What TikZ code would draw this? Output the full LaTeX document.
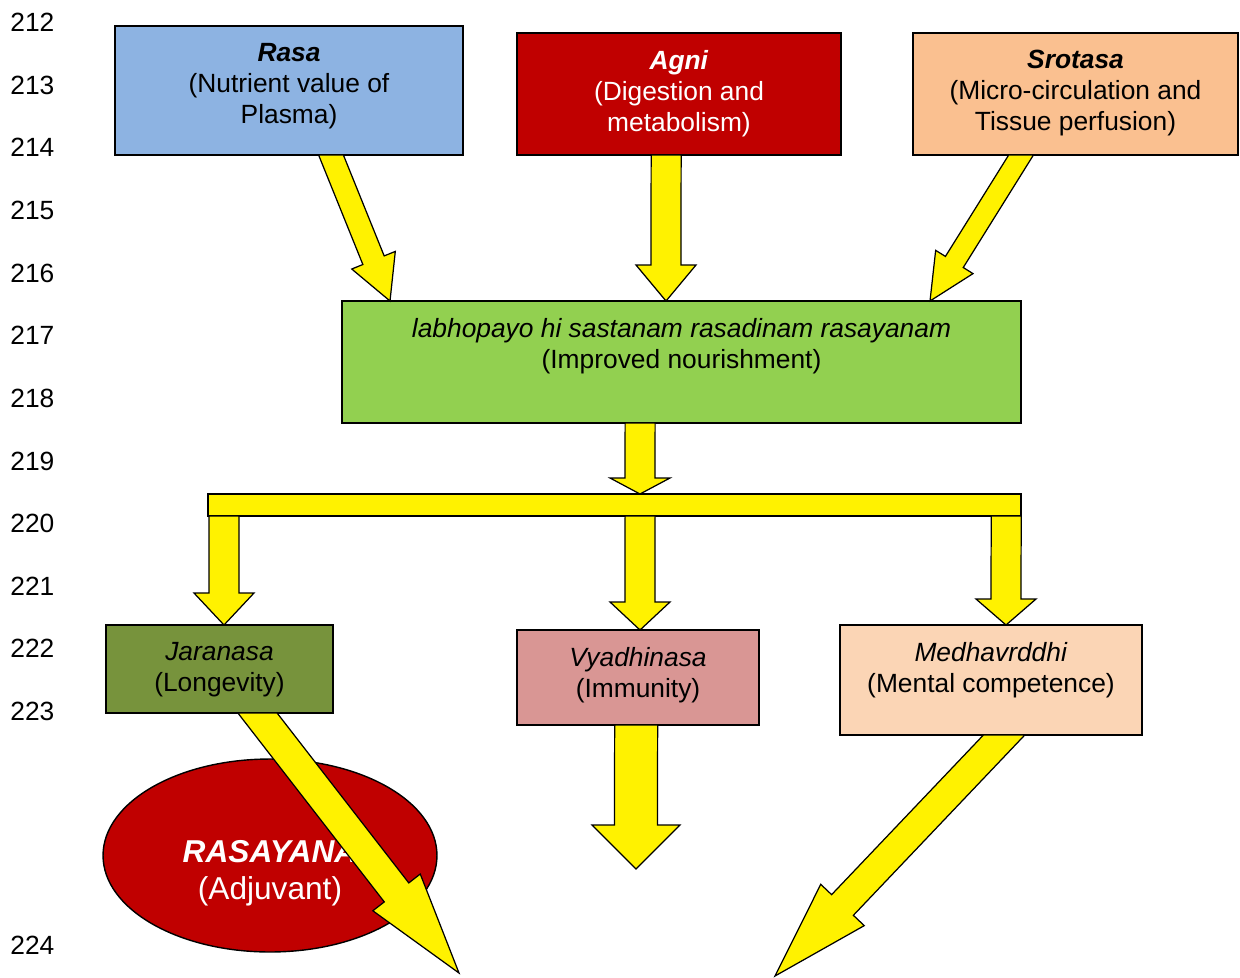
\documentclass[tikz,border=0pt]{standalone}
\usepackage{fontspec}
\setmainfont{Liberation Sans}
\usetikzlibrary{shapes,fit,calc}

\definecolor{rasablue}{HTML}{8DB3E2}
\definecolor{agnired}{HTML}{C00000}
\definecolor{srotorange}{HTML}{FAC090}
\definecolor{nourgreen}{HTML}{92D050}
\definecolor{jaraolive}{HTML}{77933C}
\definecolor{vyadhipink}{HTML}{D99694}
\definecolor{medhapeach}{HTML}{FBD5B5}

% block arrow: start, tip, shaft half width, head half width, head length
% (the shaft is cut flat along the horizontal edge it leaves)
\newcommand{\blockarrow}[5]{%
	\coordinate (headbase) at ($(#2)!#5!(#1)$);
	\coordinate (sidea) at ($(#1)!#3!90:(#2)$);
	\coordinate (sideb) at ($(#1)!#3!-90:(#2)$);
	\coordinate (necka) at ($(headbase)!#3!90:(#2)$);
	\coordinate (neckb) at ($(headbase)!#3!-90:(#2)$);
	\coordinate (flat) at ($(#1)+(10,0)$);
	\draw[fatarrow] (intersection of sidea--necka and #1--flat) -- (necka) -- ($(headbase)!#4!90:(#2)$) -- (#2)
		-- ($(headbase)!#4!-90:(#2)$) -- (neckb) -- (intersection of sideb--neckb and #1--flat) -- cycle;}

\begin{document}
\begin{tikzpicture}[x=0.02cm, y=-0.02cm,
		box/.style={draw=black, line width=0.8pt, inner sep=0pt, outer sep=0pt},
		boxtext/.style={anchor=north, inner sep=0pt, align=center, font=\fontsize{15}{17.6}\selectfont},
		fatarrow/.style={draw=black, fill=yellow, line width=0.7pt, line join=miter},
		lineno/.style={anchor=west, inner sep=0pt, font=\fontsize{15}{18}\selectfont}]
			\useasboundingbox (0,0) rectangle (1240,977);
			
			% Line numbers
			\foreach \num/\ypos in {212/22, 213/85, 214/147, 215/210, 216/273, 217/335, 218/398, 219/461, 220/523, 221/586, 222/648, 223/711, 224/945}
				\node[lineno] (ln\num) at (10,\ypos) {\num};
			
			% Sources
			\node[box, fill=rasablue, fit={(115,26) (463,155)}] (rasa) {};
			\node[boxtext] (rasatxt) at ($(rasa.north)+(0,17)$) {\textbf{\textit{Rasa}}\\(Nutrient value of\\Plasma)};
			\node[box, fill=agnired, fit={(517,33) (841,155)}] (agni) {};
			\node[boxtext, text=white] (agnitxt) at ($(agni.north)+(0,17)$) {\textbf{\textit{Agni}}\\(Digestion and\\metabolism)};
			\node[box, fill=srotorange, fit={(913,33) (1238,155)}] (srotasa) {};
			\node[boxtext] (srotasatxt) at ($(srotasa.north)+(0,17)$) {\textbf{\textit{Srotasa}}\\(Micro-circulation and\\Tissue perfusion)};
			
			% Nourishment
			\node[box, fill=nourgreen, fit={(342,301) (1021,423)}] (nourish) {};
			\node[boxtext] (nourishtxt) at ($(nourish.north)+(0,17)$) {\textit{labhopayo hi sastanam rasadinam rasayanam}\\(Improved nourishment)};
			\node[box, fill=yellow, fit={(208,494) (1021,516)}] (bar) {};
			
			% Effects
			\node[box, fill=jaraolive, fit={(106,625) (333,713)}] (jara) {};
			\node[boxtext] (jaratxt) at ($(jara.north)+(0,17)$) {\textit{Jaranasa}\\(Longevity)};
			\node[box, fill=vyadhipink, fit={(517,630) (759,725)}] (vyadhi) {};
			\node[boxtext] (vyadhitxt) at ($(vyadhi.north)+(0,17)$) {\textit{Vyadhinasa}\\(Immunity)};
			\node[box, fill=medhapeach, fit={(840,625) (1142,735)}] (medha) {};
			\node[boxtext] (medhatxt) at ($(medha.north)+(0,17)$) {\textit{Medhavrddhi}\\(Mental competence)};
			
			% Rasayana
			\node[box, ellipse, fill=agnired, minimum width=6.68cm, minimum height=3.86cm] (rasayana) at (270,855.5) {};
			\node[boxtext, text=white, font=\fontsize{18}{21}\selectfont] (rasayanatxt) at (270,840) {\textbf{\textit{RASAYANA}}\\(Adjuvant)};
			
			% Arrow ends
			\coordinate (rasaout) at ($(rasa.south west)+(216,0)$);
			\coordinate (rasain) at ($(nourish.north west)+(48,0)$);
			\coordinate (agniout) at ($(agni.south west)+(149,0)$);
			\coordinate (agniin) at ($(nourish.north west)+(324,0)$);
			\coordinate (srotout) at ($(srotasa.south west)+(108,0)$);
			\coordinate (srotin) at ($(nourish.north west)+(588,0)$);
			\coordinate (nourout) at ($(nourish.south west)+(298,0)$);
			\coordinate (barin) at ($(bar.north west)+(432,0)$);
			\coordinate (barleft) at ($(bar.south west)+(16,0)$);
			\coordinate (jarain) at ($(jara.north west)+(118,0)$);
			\coordinate (barmid) at ($(bar.south west)+(432,0)$);
			\coordinate (vyadhiin) at ($(vyadhi.north west)+(123,0)$);
			\coordinate (barright) at ($(bar.south west)+(798,0)$);
			\coordinate (medhain) at ($(medha.north west)+(166,0)$);
			\coordinate (jaraout) at ($(jara.south west)+(151.5,0)$);
			\coordinate (jaraend) at (459,973);
			\coordinate (vyadhiout) at ($(vyadhi.south west)+(119,0)$);
			\coordinate (vyadhiend) at (636,869);
			\coordinate (medhaout) at ($(medha.south west)+(164,0)$);
			\coordinate (medhaend) at (775,976);
			
			% Arrows
			\blockarrow{rasaout}{rasain}{0.23cm}{0.47cm}{0.88cm}
			\blockarrow{agniout}{agniin}{0.3cm}{0.6cm}{0.72cm}
			\blockarrow{srotout}{srotin}{0.21cm}{0.44cm}{0.92cm}
			\blockarrow{nourout}{barin}{0.3cm}{0.6cm}{0.32cm}
			\blockarrow{barleft}{jarain}{0.3cm}{0.6cm}{0.64cm}
			\blockarrow{barmid}{vyadhiin}{0.3cm}{0.6cm}{0.56cm}
			\blockarrow{barright}{medhain}{0.3cm}{0.6cm}{0.52cm}
			\blockarrow{jaraout}{jaraend}{0.31cm}{0.6cm}{2.04cm}
			\blockarrow{vyadhiout}{vyadhiend}{0.43cm}{0.88cm}{0.88cm}
			\blockarrow{medhaout}{medhaend}{0.3cm}{0.6cm}{1.96cm}
		\end{tikzpicture}
\end{document}
